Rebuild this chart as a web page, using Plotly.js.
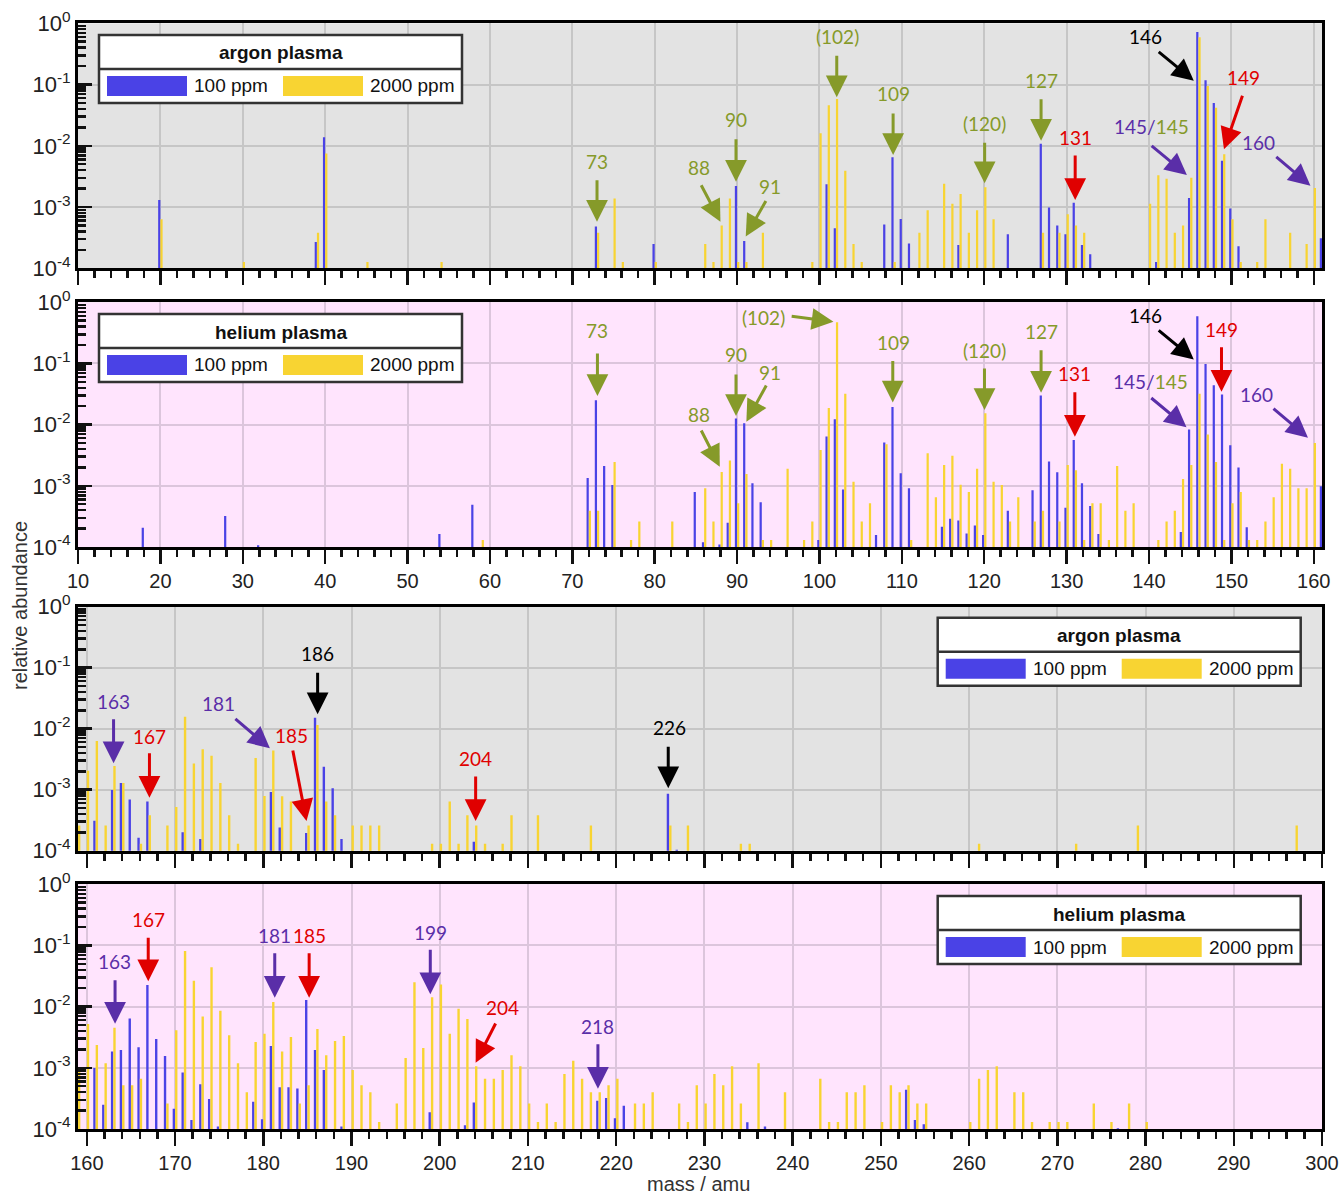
<!DOCTYPE html>
<html>
<head>
<meta charset="utf-8">
<script src="https://cdn.plot.ly/plotly-3.0.1.min.js"></script>
<style>
  html, body { margin: 0; padding: 0; background: #ffffff; }
  #chart { width: 1339px; height: 1196px; }
</style>
</head>
<body>
<div id="chart"></div>
<script>
// ---------- relative abundances, argon plasma, 10-161 amu ----------
const argonLow100Mass = [20, 39, 40, 73, 80, 90, 91, 101, 102, 108, 109, 110, 111, 117, 123, 127, 128, 129, 130, 131, 132, 133, 141, 145, 146, 147, 148, 149, 150, 151, 161];
const argonLow100Val  = [1.3e-3, 2.7e-4, 1.38e-2, 4.8e-4, 2.5e-4, 2.2e-3, 2.8e-4, 2.35e-3, 4.5e-4, 5.2e-4, 6.5e-3, 6.4e-4, 2.55e-4, 2.4e-4, 3.6e-4, 1.08e-2, 9.8e-4, 5.0e-4, 3.6e-4, 1.18e-3, 2.4e-4, 1.7e-4, 1.27e-4, 1.4e-3, 0.72, 0.117, 0.050, 5.7e-3, 9.5e-4, 2.3e-4, 3.1e-4];
const argonLow2000Mass = [20, 30, 39, 40, 45, 54, 73, 75, 76, 80, 86, 87, 88, 89, 90, 91, 93, 99, 100, 101, 102, 103, 104, 105, 109, 112, 113, 115, 116, 117, 118, 119, 120, 121, 127, 129, 130, 131, 132, 140, 141, 142, 143, 144, 145, 146, 147, 148, 149, 150, 151, 153, 154, 157, 159, 160];
const argonLow2000Val  = [6.3e-4, 1.27e-4, 3.8e-4, 7.5e-3, 1.27e-4, 1.27e-4, 3.8e-4, 1.38e-3, 1.27e-4, 1.27e-4, 2.5e-4, 1.27e-4, 5.0e-4, 1.38e-3, 1.27e-4, 1.27e-4, 3.8e-4, 1.27e-4, 1.6e-2, 4.6e-2, 5.8e-2, 3.9e-3, 2.5e-4, 1.27e-4, 1.27e-4, 3.8e-4, 8.9e-4, 2.4e-3, 1.13e-3, 1.63e-3, 3.8e-4, 8.9e-4, 2.1e-3, 6.3e-4, 3.8e-4, 3.8e-4, 7.6e-4, 5.0e-4, 3.8e-4, 1.13e-3, 3.3e-3, 2.9e-3, 3.8e-4, 5.0e-4, 3.0e-3, 0.59, 0.095, 0.042, 7.3e-3, 6.3e-4, 1.27e-4, 1.27e-4, 6.3e-4, 3.8e-4, 2.5e-4, 2.05e-3];

// ---------- relative abundances, helium plasma, 10-161 amu ----------
const heliumLow100Mass = [18, 28, 32, 54, 58, 72, 73, 74, 75, 85, 86, 88, 89, 90, 91, 92, 93, 100, 101, 102, 103, 107, 108, 109, 110, 111, 115, 116, 117, 118, 119, 120, 123, 126, 127, 128, 129, 130, 131, 132, 133, 134, 144, 145, 146, 147, 148, 149, 150, 151, 152, 161];
const heliumLow100Val  = [2.07e-4, 3.2e-4, 1.07e-4, 1.63e-4, 4.9e-4, 1.34e-3, 2.5e-2, 2.1e-3, 1.03e-3, 7.9e-4, 1.2e-4, 1.1e-4, 2.5e-4, 1.26e-2, 1.05e-2, 1.1e-3, 5.4e-4, 1.3e-4, 6.4e-3, 1.23e-2, 8.7e-4, 1.57e-4, 5.1e-3, 1.94e-2, 1.6e-3, 9.1e-4, 2.15e-4, 2.9e-4, 2.7e-4, 1.67e-4, 2.25e-4, 1.57e-4, 3.9e-4, 8.5e-4, 3.0e-2, 2.5e-3, 1.66e-3, 4.4e-4, 5.6e-3, 1.1e-3, 4.7e-4, 1.63e-4, 1.76e-4, 8.3e-3, 0.59, 0.098, 0.044, 0.031, 4.6e-3, 2.0e-3, 2.1e-4, 9.8e-4];
const heliumLow2000Mass = [59, 72, 73, 75, 77, 78, 82, 86, 87, 88, 89, 90, 91, 93, 94, 96, 98, 99, 100, 101, 102, 103, 104, 105, 106, 108, 111, 113, 114, 115, 116, 117, 118, 119, 120, 121, 122, 123, 124, 126, 127, 129, 130, 131, 132, 133, 134, 135, 136, 137, 138, 141, 142, 143, 144, 145, 146, 147, 148, 149, 150, 151, 152, 153, 154, 155, 156, 157, 158, 159, 160];
const heliumLow2000Val  = [1.3e-4, 3.9e-4, 3.9e-4, 2.45e-3, 1.3e-4, 2.6e-4, 2.6e-4, 9.1e-4, 2.6e-4, 1.68e-3, 2.6e-3, 5.2e-4, 1.56e-3, 1.3e-4, 1.3e-4, 1.9e-3, 1.3e-4, 2.6e-4, 3.85e-3, 1.87e-2, 0.47, 3.2e-2, 1.17e-3, 2.6e-4, 5.2e-4, 4.8e-3, 1.3e-4, 3.4e-3, 6.5e-4, 2.2e-3, 3.1e-3, 1.04e-3, 7.9e-4, 1.9e-3, 1.53e-2, 1.17e-3, 1.03e-3, 2.6e-4, 6.5e-4, 2.6e-4, 3.9e-4, 2.6e-4, 2.2e-3, 1.8e-3, 1.3e-4, 5.2e-4, 5.2e-4, 1.3e-4, 2.1e-3, 3.9e-4, 5.2e-4, 1.3e-4, 2.6e-4, 3.9e-4, 1.29e-3, 2.2e-3, 3.2e-2, 6.9e-3, 2.45e-3, 1.3e-4, 5.2e-4, 7.9e-4, 1.3e-4, 1.3e-4, 2.6e-4, 6.5e-4, 2.3e-3, 1.9e-3, 9.1e-4, 9.1e-4, 5.0e-3];

// ---------- relative abundances, argon plasma, 159-300 amu ----------
const argonHigh100Mass = [161, 163, 164, 165, 166, 167, 171, 173, 181, 182, 185, 186, 187, 188, 189, 204, 226, 227];
const argonHigh100Val  = [3.1e-4, 9.9e-4, 1.29e-3, 6.9e-4, 1.63e-4, 6.4e-4, 2.0e-4, 1.55e-4, 9.2e-4, 2.4e-4, 1.95e-4, 1.51e-2, 2.38e-3, 1.06e-3, 1.55e-4, 1.4e-4, 8.6e-4, 1.04e-4];
const argonHigh2000Mass = [159, 160, 161, 162, 163, 164, 166, 167, 169, 170, 171, 172, 173, 174, 175, 176, 177, 179, 180, 181, 182, 183, 185, 186, 187, 188, 190, 191, 192, 193, 199, 200, 201, 202, 203, 204, 205, 207, 208, 211, 217, 226, 228, 234, 235, 261, 272, 279, 297];
const argonHigh2000Val  = [2.6e-4, 2.05e-3, 6.3e-3, 2.6e-4, 2.44e-3, 1.29e-3, 1.3e-4, 3.8e-4, 2.6e-4, 5.2e-4, 1.57e-2, 2.7e-3, 4.6e-3, 3.6e-3, 1.29e-3, 3.8e-4, 1.3e-4, 3.3e-3, 7.9e-4, 4.4e-3, 7.8e-4, 6.4e-4, 2.6e-4, 1.15e-2, 6.4e-4, 3.8e-4, 2.6e-4, 2.6e-4, 2.6e-4, 2.6e-4, 1.3e-4, 1.3e-4, 6.4e-4, 1.3e-4, 3.8e-4, 2.6e-4, 1.3e-4, 1.3e-4, 3.8e-4, 3.8e-4, 2.6e-4, 2.6e-4, 2.6e-4, 1.3e-4, 1.3e-4, 1.3e-4, 1.3e-4, 2.6e-4, 2.6e-4];

// ---------- relative abundances, helium plasma, 159-300 amu ----------
const heliumHigh100Mass = [161, 162, 163, 164, 165, 166, 167, 168, 169, 170, 171, 172, 173, 174, 175, 179, 180, 181, 182, 183, 184, 185, 186, 187, 189, 199, 203, 204, 218, 219, 220, 221, 235, 237, 253, 254, 255, 277];
const heliumHigh100Val  = [9.9e-4, 2.5e-4, 1.84e-3, 1.96e-3, 6.4e-3, 2.16e-3, 2.26e-2, 2.96e-3, 1.56e-3, 2.15e-4, 8.4e-4, 1.4e-4, 5.4e-4, 3.1e-4, 1.1e-4, 2.8e-4, 1.44e-4, 2.27e-3, 4.8e-4, 4.8e-4, 4.6e-4, 1.29e-2, 1.96e-3, 9.2e-4, 1.1e-4, 1.87e-4, 1.15e-4, 2.7e-4, 2.9e-4, 3.2e-4, 1.5e-4, 2.4e-4, 1.29e-4, 1.1e-4, 4.4e-4, 1.4e-4, 1.2e-4, 1.03e-4];
const heliumHigh2000Mass = [159, 160, 161, 162, 163, 164, 165, 166, 169, 170, 171, 172, 173, 174, 175, 176, 177, 178, 179, 180, 181, 182, 183, 184, 185, 186, 187, 188, 189, 190, 191, 192, 193, 195, 196, 197, 198, 199, 200, 201, 202, 203, 204, 205, 206, 207, 208, 209, 210, 211, 212, 213, 214, 215, 216, 217, 218, 219, 220, 222, 223, 224, 227, 228, 229, 230, 231, 232, 233, 234, 236, 239, 243, 244, 245, 246, 247, 248, 250, 251, 252, 253, 254, 255, 260, 261, 262, 263, 265, 266, 267, 269, 270, 271, 274, 276, 278, 280];
const heliumHigh2000Val  = [9.3e-4, 5.2e-3, 2.36e-3, 1.19e-3, 4.5e-3, 5.2e-4, 5.2e-4, 6.6e-4, 2.6e-4, 4.1e-3, 8.1e-2, 2.66e-2, 6.9e-3, 4.4e-2, 8.6e-3, 3.4e-3, 1.19e-3, 4.0e-4, 2.64e-3, 3.6e-3, 1.19e-2, 1.84e-3, 3.2e-3, 2.6e-4, 5.2e-4, 4.3e-3, 1.6e-3, 2.75e-3, 3.3e-3, 9.2e-4, 5.2e-4, 4.0e-4, 1.3e-4, 2.6e-4, 1.45e-3, 2.5e-2, 2.1e-3, 1.42e-2, 2.3e-2, 3.6e-3, 9.2e-3, 6.3e-3, 1.06e-3, 6.6e-4, 6.6e-4, 9.2e-4, 1.6e-3, 1.06e-3, 2.6e-4, 1.3e-4, 2.6e-4, 1.3e-4, 7.9e-4, 1.31e-3, 6.6e-4, 4.0e-4, 4.0e-4, 5.2e-4, 6.6e-4, 2.6e-4, 2.6e-4, 4.0e-4, 2.6e-4, 1.3e-4, 5.2e-4, 2.6e-4, 7.9e-4, 5.2e-4, 1.06e-3, 2.6e-4, 1.19e-3, 4.0e-4, 6.6e-4, 1.3e-4, 1.3e-4, 4.0e-4, 4.0e-4, 5.2e-4, 1.3e-4, 5.2e-4, 4.0e-4, 5.2e-4, 2.6e-4, 2.6e-4, 1.3e-4, 6.6e-4, 9.2e-4, 1.06e-3, 4.0e-4, 4.0e-4, 1.3e-4, 1.3e-4, 1.3e-4, 1.3e-4, 2.6e-4, 1.3e-4, 2.6e-4, 1.3e-4];

// ---------- axis labels ----------
const decadeVals = [1e-4, 1e-3, 1e-2, 1e-1, 1];
const decadeText = ['10<sup>-4</sup>', '10<sup>-3</sup>', '10<sup>-2</sup>', '10<sup>-1</sup>', '10<sup>0</sup>'];
const seriesNames = ['100 ppm', '2000 ppm'];
const panelTitles = ['argon plasma', 'helium plasma', 'argon plasma', 'helium plasma'];

// ---------- peak labels: [text, colour, label mass, label log10, tip mass, tip log10, dx px, dy px] ----------
const OLIVE = '#869a2a', RED = '#e00000', PURPLE = '#5a2ea8', BLACK = '#000000';
const mixed145 = '<span style="color:' + PURPLE + '">145/</span><span style="color:' + OLIVE + '">145</span>';

const argonLowNotes = [
  ['73', OLIVE, 72.95, -2.25, 73.0, -3.24, 0, -43],
  ['88', OLIVE, 85.43, -2.36, 87.98, -3.24, -20, -38],
  ['90', OLIVE, 89.88, -1.57, 89.87, -2.586, 0, -44],
  ['91', OLIVE, 93.96, -2.67, 91.05, -3.48, 21, -37],
  ['(102)', OLIVE, 102.15, -0.22, 102.1, -1.208, 0, -43],
  ['109', OLIVE, 108.98, -1.15, 108.94, -2.15, 0, -43],
  ['(120)', OLIVE, 120.07, -1.64, 120.05, -2.612, 0, -42],
  ['127', OLIVE, 126.91, -0.93, 126.9, -1.917, 0, -43],
  ['131', RED, 131.08, -1.86, 131.04, -2.885, 0, -46],
  ['146', BLACK, 139.57, -0.21, 145.44, -0.937, -36.6, -30],
  ['149', RED, 151.43, -0.89, 149.1, -2.057, 19, -55],
  [mixed145, PURPLE, 140.27, -1.68, 144.6, -2.477, -36.7, -30.3],
  ['160', PURPLE, 153.26, -1.94, 159.6, -2.651, -35.7, -30]
];
const heliumLowNotes = [
  ['73', OLIVE, 73.05, -0.46, 73.05, -1.533, 0, -44],
  ['88', OLIVE, 85.39, -1.83, 87.9, -2.688, -19.3, -37.7],
  ['90', OLIVE, 89.88, -0.85, 89.87, -1.86, 0, -43],
  ['91', OLIVE, 94.05, -1.14, 91.13, -1.953, 20.7, -37.7],
  ['(102)', OLIVE, 93.24, -0.25, 101.7, -0.319, -43.3, -5.7],
  ['109', OLIVE, 109.02, -0.65, 108.9, -1.636, 0, -43],
  ['(120)', OLIVE, 120.03, -0.78, 120.03, -1.761, 0, -43],
  ['127', OLIVE, 126.91, -0.48, 126.9, -1.479, 0, -44],
  ['131', RED, 130.92, -1.17, 131.0, -2.198, 0, -46],
  ['146', BLACK, 139.57, -0.21, 145.44, -0.933, -36.6, -30.3],
  ['149', RED, 148.8, -0.44, 148.8, -1.462, 0, -46],
  [mixed145, PURPLE, 140.18, -1.30, 144.55, -2.044, -36.7, -30.6],
  ['160', PURPLE, 153.01, -1.50, 159.3, -2.214, -36, -30.4]
];
const argonHighNotes = [
  ['163', PURPLE, 163.03, -1.55, 163.03, -2.567, 0, -45.6],
  ['167', RED, 167.11, -2.12, 167.1, -3.131, 0, -46],
  ['181', PURPLE, 174.9, -1.59, 180.75, -2.321, -36, -30.6],
  ['185', RED, 183.24, -2.11, 184.9, -3.513, -14, -72],
  ['186', BLACK, 186.16, -0.76, 186.16, -1.764, 0, -43],
  ['204', RED, 204.07, -2.49, 204.07, -3.513, 0, -46],
  ['226', BLACK, 225.99, -1.98, 225.9, -2.977, 0, -43]
];
const heliumHighNotes = [
  ['163', PURPLE, 163.17, -1.27, 163.2, -2.279, 0, -45],
  ['167', RED, 166.96, -0.57, 166.96, -1.585, 0, -45],
  ['181', PURPLE, 181.28, -0.83, 181.3, -1.853, 0, -46],
  ['185', RED, 185.22, -0.83, 185.2, -1.853, 0, -46],
  ['199', PURPLE, 198.93, -0.78, 198.93, -1.798, 0, -46],
  ['204', RED, 207.09, -2.02, 204.07, -2.916, 20.7, -40.7],
  ['218', PURPLE, 217.93, -2.32, 217.93, -3.341, 0, -46]
];

// ---------- styling ----------
const BLUE = '#4a42e6', YELLOW = '#f8d432';
const GREY_BG = '#e3e3e3', PINK_BG = '#ffe4fd';
const GREY_GRID = '#c6c6c6', PINK_GRID = '#dcc5dc';
const SANS = '"Liberation Sans", Arial, sans-serif';
const NOTE_FONT = 'Lato, "Open Sans", sans-serif';

const W = 1339, H = 1196;
const M = { l: 78, r: 17, t: 23, b: 67 };
const plotW = W - M.l - M.r, plotH = H - M.t - M.b;
const pxX = px => (px - M.l) / plotW;
const pxY = py => 1 - (py - M.t) / plotH;

// panel pixel extents (top, bottom)
const panels = [
  { top: 23.3, bottom: 268.3, range: [10, 161], bg: GREY_BG, grid: GREY_GRID, labels: false },
  { top: 302.3, bottom: 547, range: [10, 161], bg: PINK_BG, grid: PINK_GRID, labels: true },
  { top: 606.7, bottom: 850.7, range: [159, 300], bg: GREY_BG, grid: GREY_GRID, labels: false },
  { top: 884.3, bottom: 1129, range: [159, 300], bg: PINK_BG, grid: PINK_GRID, labels: true }
];

const minorVals = [];
for (let d = -4; d < 0; d++) for (let k = 2; k <= 9; k++) minorVals.push(k * Math.pow(10, d));

const layout = {
  width: W, height: H, margin: M,
  paper_bgcolor: '#ffffff', plot_bgcolor: GREY_BG,
  barmode: 'overlay', showlegend: false,
  font: { family: SANS, size: 20, color: '#222' },
  shapes: [], annotations: []
};

panels.forEach((p, i) => {
  const n = i === 0 ? '' : String(i + 1);
  layout['xaxis' + n] = {
    domain: [0, 1], anchor: 'y' + n, range: p.range, type: 'linear',
    showticklabels: p.labels, tickmode: 'linear', tick0: 0, dtick: 10,
    ticks: 'outside', ticklen: 14, tickwidth: 2.5, tickcolor: '#111',
    tickfont: { family: SANS, size: 20, color: '#222' },
    minor: { dtick: 2, tick0: 0, ticks: 'outside', ticklen: 7, tickwidth: 2.5, tickcolor: '#111', showgrid: false },
    showgrid: true, gridcolor: p.grid, gridwidth: 2,
    showline: true, linecolor: '#000', linewidth: 3, mirror: true, zeroline: false
  };
  layout['yaxis' + n] = {
    domain: [pxY(p.bottom), Math.min(1, pxY(p.top))], anchor: 'x' + n,
    type: 'log', range: [-4, 0],
    tickmode: 'array', tickvals: decadeVals, ticktext: decadeText,
    ticks: 'inside', ticklen: 14, tickwidth: 2.5, tickcolor: '#111',
    tickfont: { family: SANS, size: 22, color: '#222' },
    minor: { tickmode: 'array', tickvals: minorVals, ticks: 'inside', ticklen: 8, tickwidth: 2.5, tickcolor: '#111', showgrid: false },
    showgrid: true, gridcolor: p.grid, gridwidth: 2,
    showline: true, linecolor: '#000', linewidth: 3, mirror: true, zeroline: false
  };
  if (p.bg !== GREY_BG) {
    layout.shapes.push({
      type: 'rect', xref: 'x' + n + ' domain', yref: 'y' + n + ' domain',
      x0: 0, x1: 1, y0: 0, y1: 1, fillcolor: p.bg, line: { width: 0 }, layer: 'below'
    });
  }
});

// legend boxes drawn as framed tables: title row on top, swatches below
function legendBlock(left, top, title) {
  const w = 363, h = 68;
  const frame = { color: '#333', width: 2.5 };
  const txt = { family: SANS, size: 19, color: '#111' };
  layout.shapes.push(
    { type: 'rect', xref: 'paper', yref: 'paper', x0: pxX(left), x1: pxX(left + w), y0: pxY(top + h), y1: pxY(top), fillcolor: '#ffffff', line: frame, layer: 'above' },
    { type: 'line', xref: 'paper', yref: 'paper', x0: pxX(left), x1: pxX(left + w), y0: pxY(top + 34), y1: pxY(top + 34), line: frame, layer: 'above' },
    { type: 'rect', xref: 'paper', yref: 'paper', x0: pxX(left + 8), x1: pxX(left + 88), y0: pxY(top + 61), y1: pxY(top + 41), fillcolor: BLUE, line: { width: 0 }, layer: 'above' },
    { type: 'rect', xref: 'paper', yref: 'paper', x0: pxX(left + 184), x1: pxX(left + 264), y0: pxY(top + 61), y1: pxY(top + 41), fillcolor: YELLOW, line: { width: 0 }, layer: 'above' }
  );
  layout.annotations.push(
    { xref: 'paper', yref: 'paper', x: pxX(left + w / 2), y: pxY(top + 18), xanchor: 'center', yanchor: 'middle', text: '<b>' + title + '</b>', showarrow: false, font: txt },
    { xref: 'paper', yref: 'paper', x: pxX(left + 93), y: pxY(top + 51), xanchor: 'left', yanchor: 'middle', text: seriesNames[0], showarrow: false, font: txt },
    { xref: 'paper', yref: 'paper', x: pxX(left + 269), y: pxY(top + 51), xanchor: 'left', yanchor: 'middle', text: seriesNames[1], showarrow: false, font: txt }
  );
}
legendBlock(99, 35, panelTitles[0]);
legendBlock(99, 314, panelTitles[1]);
legendBlock(937.7, 617.7, panelTitles[2]);
legendBlock(937.7, 896, panelTitles[3]);

// peak labels with arrows
function addNotes(notes, xa, ya) {
  notes.forEach(([text, color, lm, ll, tm, tl, dx, dy]) => {
    layout.annotations.push({
      xref: xa, yref: ya, x: lm, y: ll, xanchor: 'center', yanchor: 'middle',
      text: text, showarrow: false,
      font: { family: NOTE_FONT, size: 19, color: color }
    });
    layout.annotations.push({
      xref: xa, yref: ya, x: tm, y: tl, text: '', showarrow: true,
      ax: dx, ay: dy, arrowhead: 2, arrowsize: 1.45, arrowwidth: 3,
      arrowcolor: color, standoff: 0
    });
  });
}
addNotes(argonLowNotes, 'x', 'y');
addNotes(heliumLowNotes, 'x2', 'y2');
addNotes(argonHighNotes, 'x3', 'y3');
addNotes(heliumHighNotes, 'x4', 'y4');

// axis titles
layout.annotations.push(
  { xref: 'paper', yref: 'paper', x: pxX(20), y: pxY(606), xanchor: 'center', yanchor: 'middle', text: 'relative abundance', textangle: -90, showarrow: false, font: { family: SANS, size: 20, color: '#333' } },
  { xref: 'paper', yref: 'paper', x: pxX(698), y: pxY(1184), xanchor: 'center', yanchor: 'middle', text: 'mass / amu', showarrow: false, font: { family: SANS, size: 20, color: '#333' } }
);

// bar traces: 100 ppm just left of each integer mass, 2000 ppm just right
function barPair(xa, ya, m100, v100, m2000, v2000) {
  const common = { type: 'bar', xaxis: xa, yaxis: ya, width: 0.27, showlegend: false, hovertemplate: '%{x}: %{y}<extra></extra>' };
  return [
    Object.assign({}, common, { name: seriesNames[0], x: m100, y: v100, offset: -0.27, marker: { color: BLUE, line: { width: 0 } } }),
    Object.assign({}, common, { name: seriesNames[1], x: m2000, y: v2000, offset: 0, marker: { color: YELLOW, line: { width: 0 } } })
  ];
}
const data = [].concat(
  barPair('x', 'y', argonLow100Mass, argonLow100Val, argonLow2000Mass, argonLow2000Val),
  barPair('x2', 'y2', heliumLow100Mass, heliumLow100Val, heliumLow2000Mass, heliumLow2000Val),
  barPair('x3', 'y3', argonHigh100Mass, argonHigh100Val, argonHigh2000Mass, argonHigh2000Val),
  barPair('x4', 'y4', heliumHigh100Mass, heliumHigh100Val, heliumHigh2000Mass, heliumHigh2000Val)
);

Plotly.newPlot('chart', data, layout, { staticPlot: true, displayModeBar: false });
</script>
</body>
</html>
